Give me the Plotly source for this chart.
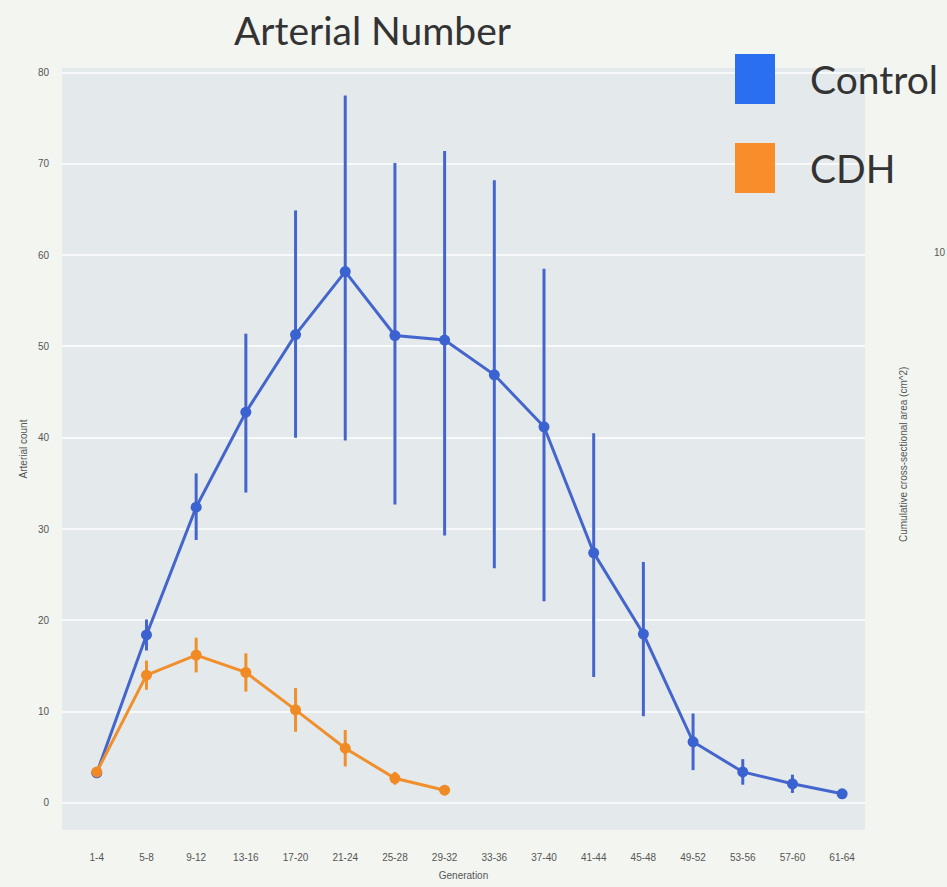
import plotly.graph_objects as go

# Generation bins (x axis)
generations = ["1-4", "5-8", "9-12", "13-16", "17-20", "21-24", "25-28", "29-32",
               "33-36", "37-40", "41-44", "45-48", "49-52", "53-56", "57-60", "61-64"]

# Control: mean arterial count and error (upper / lower)
control_mean = [3.3, 18.4, 32.4, 42.8, 51.3, 58.2, 51.2, 50.7, 46.9, 41.2, 27.4, 18.5, 6.7, 3.4, 2.1, 1.0]
control_err_up = [0.4, 1.7, 3.7, 8.6, 13.6, 19.3, 18.9, 20.7, 21.3, 17.3, 13.1, 7.9, 3.1, 1.4, 1.0, 0.3]
control_err_dn = [0.4, 1.7, 3.6, 8.8, 11.3, 18.5, 18.5, 21.4, 21.2, 19.1, 13.6, 9.0, 3.1, 1.4, 1.0, 0.3]

# CDH: mean arterial count and error
cdh_gens = generations[:8]
cdh_mean = [3.4, 14.0, 16.2, 14.3, 10.2, 6.0, 2.7, 1.4]
cdh_err = [0.4, 1.6, 1.9, 2.1, 2.4, 2.0, 0.7, 0.4]

ctrl_color = "#4466cc"
cdh_color = "#f0902c"
xi = list(range(len(generations)))

W, H = 947, 887
ML, MR, MT, MB = 62, 82, 68, 57
PW, PH = W - ML - MR, H - MT - MB


def px(x):
    """Pixel x -> paper coordinate."""
    return (x - ML) / PW


def py(y):
    """Pixel y (from top) -> paper coordinate."""
    return (H - MB - y) / PH


fig = go.Figure()

fig.add_trace(go.Scatter(
    x=xi, y=control_mean, mode="lines+markers", name="Control",
    line=dict(color=ctrl_color, width=3),
    marker=dict(color="#3a62d0", size=11),
    error_y=dict(type="data", symmetric=False, array=control_err_up,
                 arrayminus=control_err_dn, color=ctrl_color, thickness=3, width=0),
    showlegend=False,
))

fig.add_trace(go.Scatter(
    x=xi[:len(cdh_mean)], y=cdh_mean, mode="lines+markers", name="CDH",
    line=dict(color=cdh_color, width=3),
    marker=dict(color="#ef8a24", size=11),
    error_y=dict(type="data", array=cdh_err, color=cdh_color, thickness=3, width=0),
    showlegend=False,
))

fig.update_layout(
    width=W, height=H,
    margin=dict(l=ML, r=MR, t=MT, b=MB),
    paper_bgcolor="#f3f5f1",
    plot_bgcolor="#e4e9ec",
    font=dict(family="Liberation Sans, Arial", color="#555"),
    xaxis=dict(
        range=[-0.7, 15.46], tickvals=xi, ticktext=generations, automargin=False,
        showgrid=False, zeroline=False, ticks="outside", ticklen=18,
        tickcolor="rgba(0,0,0,0)", tickfont=dict(size=10, color="#555"),
        title=dict(text="Generation", font=dict(size=10, color="#555"), standoff=9),
    ),
    yaxis=dict(
        range=[-2.96, 80.5], tickvals=[0, 10, 20, 30, 40, 50, 60, 70, 80], automargin=False,
        showgrid=True, gridcolor="#f7f9fa", gridwidth=1.5, zeroline=False,
        ticks="outside", ticklen=10, tickcolor="rgba(0,0,0,0)",
        tickfont=dict(size=10, color="#555"),
        title=dict(text="Arterial count", font=dict(size=10, color="#555"), standoff=8),
    ),
)

# Slide title
fig.add_annotation(text="Arterial Number", x=px(372), y=py(30), xref="paper", yref="paper",
                   xanchor="center", yanchor="middle", showarrow=False,
                   font=dict(family="Lato, Open Sans", size=39, color="#333"))

# Legend swatches and labels
legend_items = [("Control", "#2a6ff0", 79), ("CDH", "#f98c2b", 168)]
for label, color, cy in legend_items:
    fig.add_shape(type="rect", xref="paper", yref="paper",
                  x0=px(735), x1=px(775), y0=py(cy + 25), y1=py(cy - 25),
                  fillcolor=color, line=dict(width=0))
    fig.add_annotation(text=label, xref="paper", yref="paper",
                       x=px(808), y=py(cy), xanchor="left", yanchor="middle",
                       showarrow=False, font=dict(family="Lato, Open Sans", size=39, color="#333"))

# Neighbouring panel axis (partially visible)
fig.add_annotation(text="Cumulative cross-sectional area (cm^2)", xref="paper", yref="paper",
                   x=px(903), y=py(455), textangle=-90, showarrow=False,
                   xanchor="center", yanchor="middle", font=dict(size=10, color="#555"))
fig.add_annotation(text="10", xref="paper", yref="paper", x=px(932), y=py(253),
                   xanchor="left", yanchor="middle", showarrow=False,
                   font=dict(size=10, color="#555"))

fig.write_html("out.html")
